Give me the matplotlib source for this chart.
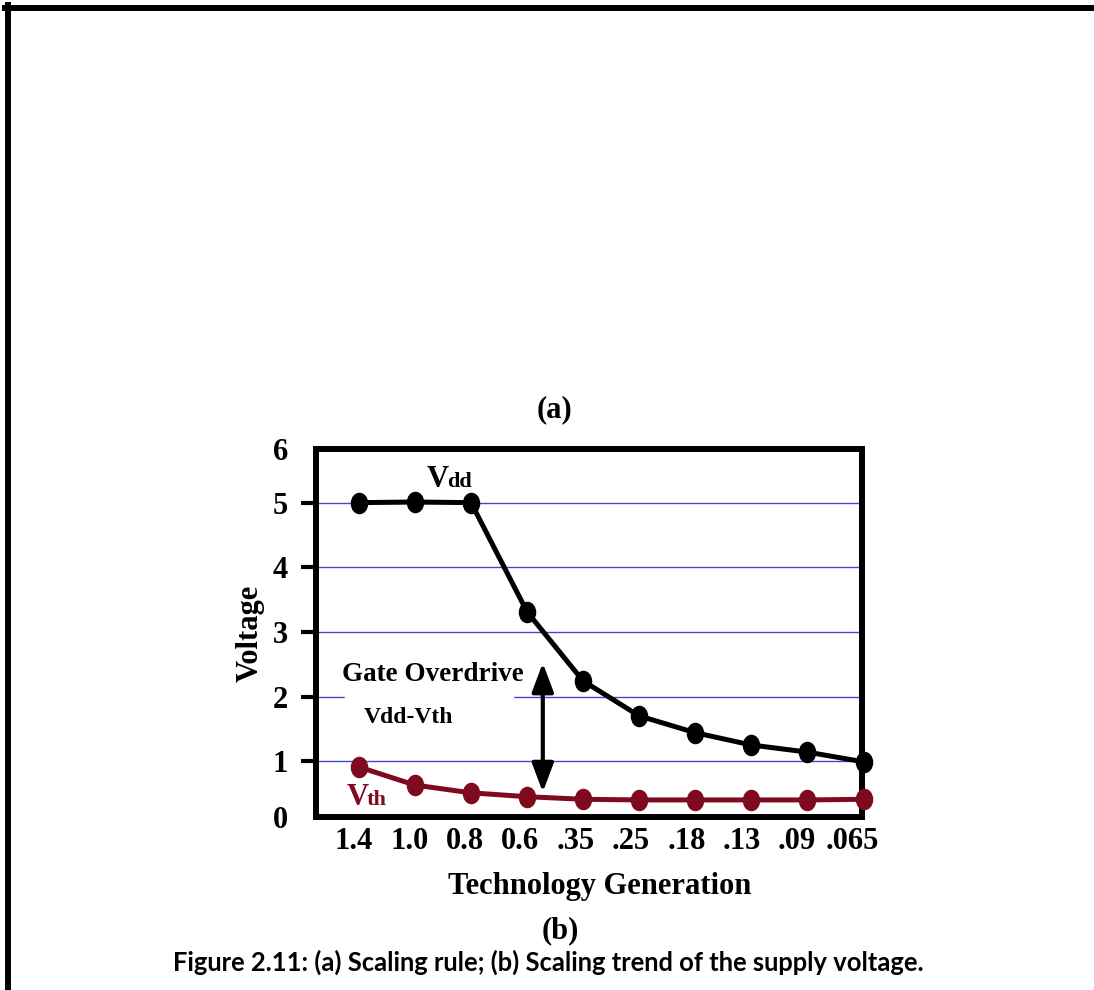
import matplotlib as mpl; mpl.use('Agg')
import matplotlib.pyplot as plt
from matplotlib.lines import Line2D
from matplotlib.patches import Rectangle
from matplotlib.path import Path
from matplotlib.transforms import Affine2D

plt.rcParams.update({'font.family':'Liberation Serif','font.weight':'bold','font.size':22,
                     'axes.labelweight':'bold'})

# data
gens=['1.4','1.0','0.8','0.6','.35','.25','.18','.13','.09','.065']
vdd=[5.0,5.01,5.0,3.31,2.24,1.70,1.44,1.25,1.14,0.99]
vth=[0.91,0.63,0.51,0.45,0.41,0.40,0.40,0.40,0.40,0.41]
ygrid=[1,2,3,4,5]

RED='#7f0a1f'; BLUE='#4444d6'
W,H=1094,990

fig=plt.figure(figsize=(W/100,H/100),dpi=100)
ax=fig.add_axes([316/W,1-817/H,546/W,368/H])
x=list(range(len(gens)))
ax.set_xlim(-0.765,8.973)
ylo,yhi=0.136,5.83
ax.set_ylim(ylo,yhi)

for g in ygrid: ax.axhline(g,color=BLUE,lw=1.0,zorder=1)
# white box behind the overdrive label
ax.add_patch(Rectangle((-0.25,1.8),3.0,0.4,color='white',zorder=2))

oval=Path.unit_circle().transformed(Affine2D().scale(0.8,1.0))
ax.plot(x,vdd,'-',color='k',lw=3.6,zorder=4,marker=oval,ms=14.5,clip_on=False)
ax.plot(x,vth,'-',color=RED,lw=3.6,zorder=4,marker=oval,ms=14.5,clip_on=False)

for s in ax.spines.values(): s.set_linewidth(4.3)
ax.set_yticks(ygrid); ax.set_yticklabels([str(g) for g in ygrid])
ax.set_yticks([ylo,yhi],minor=True); ax.set_yticklabels(['0','6'],minor=True)
ax.tick_params(axis='y',which='major',direction='out',length=10.8,width=3,pad=9.4,labelsize=22)
ax.tick_params(axis='y',which='minor',length=0,pad=20.2,labelsize=22)
# labels sit a little tighter than the points
ax.set_xticks([-0.087+0.988*i for i in x]); ax.set_xticklabels(gens)
ax.tick_params(axis='x',length=0,pad=7,labelsize=22)
ax.set_xlabel('Technology Generation',fontsize=22,labelpad=12)
ax.xaxis.label.set_x((600-316)/546)
ax.set_ylabel('Voltage',fontsize=22,labelpad=6)

# curve labels
ax.text(1.215,5.245,'V',fontsize=22,va='baseline',ha='left')
ax.text(1.57,5.245,'dd',fontsize=16,va='baseline',ha='left')
ax.text(-0.212,0.322,'V',fontsize=22,va='baseline',ha='left',color=RED)
ax.text(0.145,0.322,'th',fontsize=16,va='baseline',ha='left',color=RED)
ax.text(1.32,2.334,'Gate Overdrive',fontsize=19.5,ha='center',va='center',zorder=5)
ax.text(0.893,1.669,'Vdd-Vth',fontsize=17,ha='center',va='center',zorder=5)
ax.annotate('',xy=(3.28,2.52),xytext=(3.28,0.52),zorder=5,
            arrowprops=dict(arrowstyle='<|-|>,head_length=0.8,head_width=0.3',color='k',lw=3,
                            mutation_scale=22,shrinkA=0,shrinkB=0))

fig.text(555/W,1-410/H,'(a)',ha='center',va='center',fontsize=22)
fig.text(560/W,1-931/H,'(b)',ha='center',va='center',fontsize=22)
fig.text(548/W,1-962/H,'Figure 2.11: (a) Scaling rule; (b) Scaling trend of the supply voltage.',
         ha='center',va='center',fontsize=18.4,weight='bold',family='Lato')

# page frame (top and left edges)
fig.add_artist(Line2D([5/W,1],[1-7.5/H]*2,color='k',lw=4.3,transform=fig.transFigure))
fig.add_artist(Line2D([8/W]*2,[1-5/H,0],color='k',lw=4.3,transform=fig.transFigure))

fig.savefig('out.png',dpi=100)
